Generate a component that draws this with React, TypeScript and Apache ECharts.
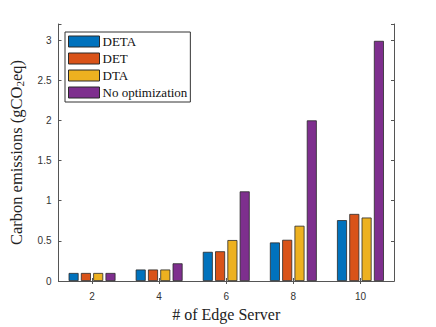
import React, { useEffect, useRef } from "react";
import * as echarts from "echarts";

const categories = ["2", "4", "6", "8", "10"];
const detaValues = [0.1, 0.143, 0.363, 0.48, 0.758];
const detValues = [0.1, 0.143, 0.37, 0.513, 0.835];
const dtaValues = [0.1, 0.143, 0.51, 0.688, 0.79];
const noOptValues = [0.1, 0.22, 1.116, 2.0, 2.99];
const seriesNames = ["DETA", "DET", "DTA", "No optimization"];
const seriesColors = ["#0072BD", "#D95319", "#EDB120", "#7E2F8E"];

export default function App() {
  const ref = useRef<HTMLDivElement>(null);
  useEffect(() => {
    if (!ref.current) return;
    const chart = echarts.init(ref.current, undefined, { renderer: "svg" });
    const data = [detaValues, detValues, dtaValues, noOptValues];
    const axisColor = "#555";
    const sans = "Liberation Sans, Arial, sans-serif";
    const serif = "Liberation Serif, Times New Roman, serif";
    chart.setOption({
      animation: false,
      backgroundColor: "#fff",
      grid: { left: 57, right: 42, top: 24, bottom: 41, containLabel: false },
      legend: {
        orient: "vertical",
        left: 65,
        top: 32,
        icon: "rect",
        itemWidth: 31,
        itemHeight: 11,
        itemGap: 4,
        padding: [3, 3, 3, 3],
        borderColor: "#333",
        borderWidth: 1,
        borderRadius: 0,
        backgroundColor: "#fff",
        itemStyle: { borderColor: "#2a2a2a", borderWidth: 1 },
        textStyle: { fontFamily: serif, fontSize: 13, color: "#111", padding: [0, 0, 0, -2] },
        data: seriesNames,
      },
      xAxis: [
        {
          type: "category",
          data: categories,
          name: "# of Edge Server",
          nameLocation: "middle",
          nameGap: 25,
          nameTextStyle: { fontFamily: serif, fontSize: 16, color: "#222" },
          axisLine: { show: true, lineStyle: { color: axisColor } },
          axisTick: { show: true, inside: true, length: 3, alignWithLabel: true, lineStyle: { color: axisColor } },
          axisLabel: { fontFamily: sans, fontSize: 10, color: "#333", margin: 10 },
          splitLine: { show: false },
        },
        {
          type: "category",
          data: categories,
          position: "top",
          axisLine: { show: true, lineStyle: { color: axisColor } },
          axisTick: { show: true, inside: true, length: 3, alignWithLabel: true, lineStyle: { color: axisColor } },
          axisLabel: { show: false },
        },
      ],
      yAxis: [
        {
          type: "value",
          min: 0,
          max: 3.2,
          interval: 0.5,
          name: "{n|Carbon emissions (gCO}{sub|2}{n|eq)}",
          nameLocation: "middle",
          nameGap: 33,
          nameTextStyle: {
            rich: {
              n: { fontFamily: serif, fontSize: 16.5, color: "#222" },
              sub: { fontFamily: serif, fontSize: 11, color: "#222", verticalAlign: "bottom", padding: [7, 0, 0, 0] },
            },
          },
          axisLine: { show: true, lineStyle: { color: axisColor } },
          axisTick: { show: true, inside: true, length: 3, lineStyle: { color: axisColor } },
          axisLabel: {
            fontFamily: sans,
            fontSize: 10,
            color: "#333",
            margin: 7,
            formatter: (v: number) => (Math.abs(v * 2 - Math.round(v * 2)) < 1e-6 ? String(v) : ""),
          },
          splitLine: { show: false },
        },
        {
          type: "value",
          min: 0,
          max: 3.2,
          interval: 0.5,
          position: "right",
          axisLine: { show: true, lineStyle: { color: axisColor } },
          axisTick: { show: true, inside: true, length: 3, lineStyle: { color: axisColor } },
          axisLabel: { show: false },
          splitLine: { show: false },
        },
      ],
      series: seriesNames.map((name, i) => ({
        name,
        type: "bar",
        data: data[i],
        barWidth: 10,
        barGap: "23%",
        itemStyle: { color: seriesColors[i], borderColor: "#2a2a2a", borderWidth: 0.8 },
      })),
    });
    return () => chart.dispose();
  }, []);
  return <div ref={ref} style={{ position: "fixed", left: 0, top: 0, width: 436, height: 327 }} />;
}
